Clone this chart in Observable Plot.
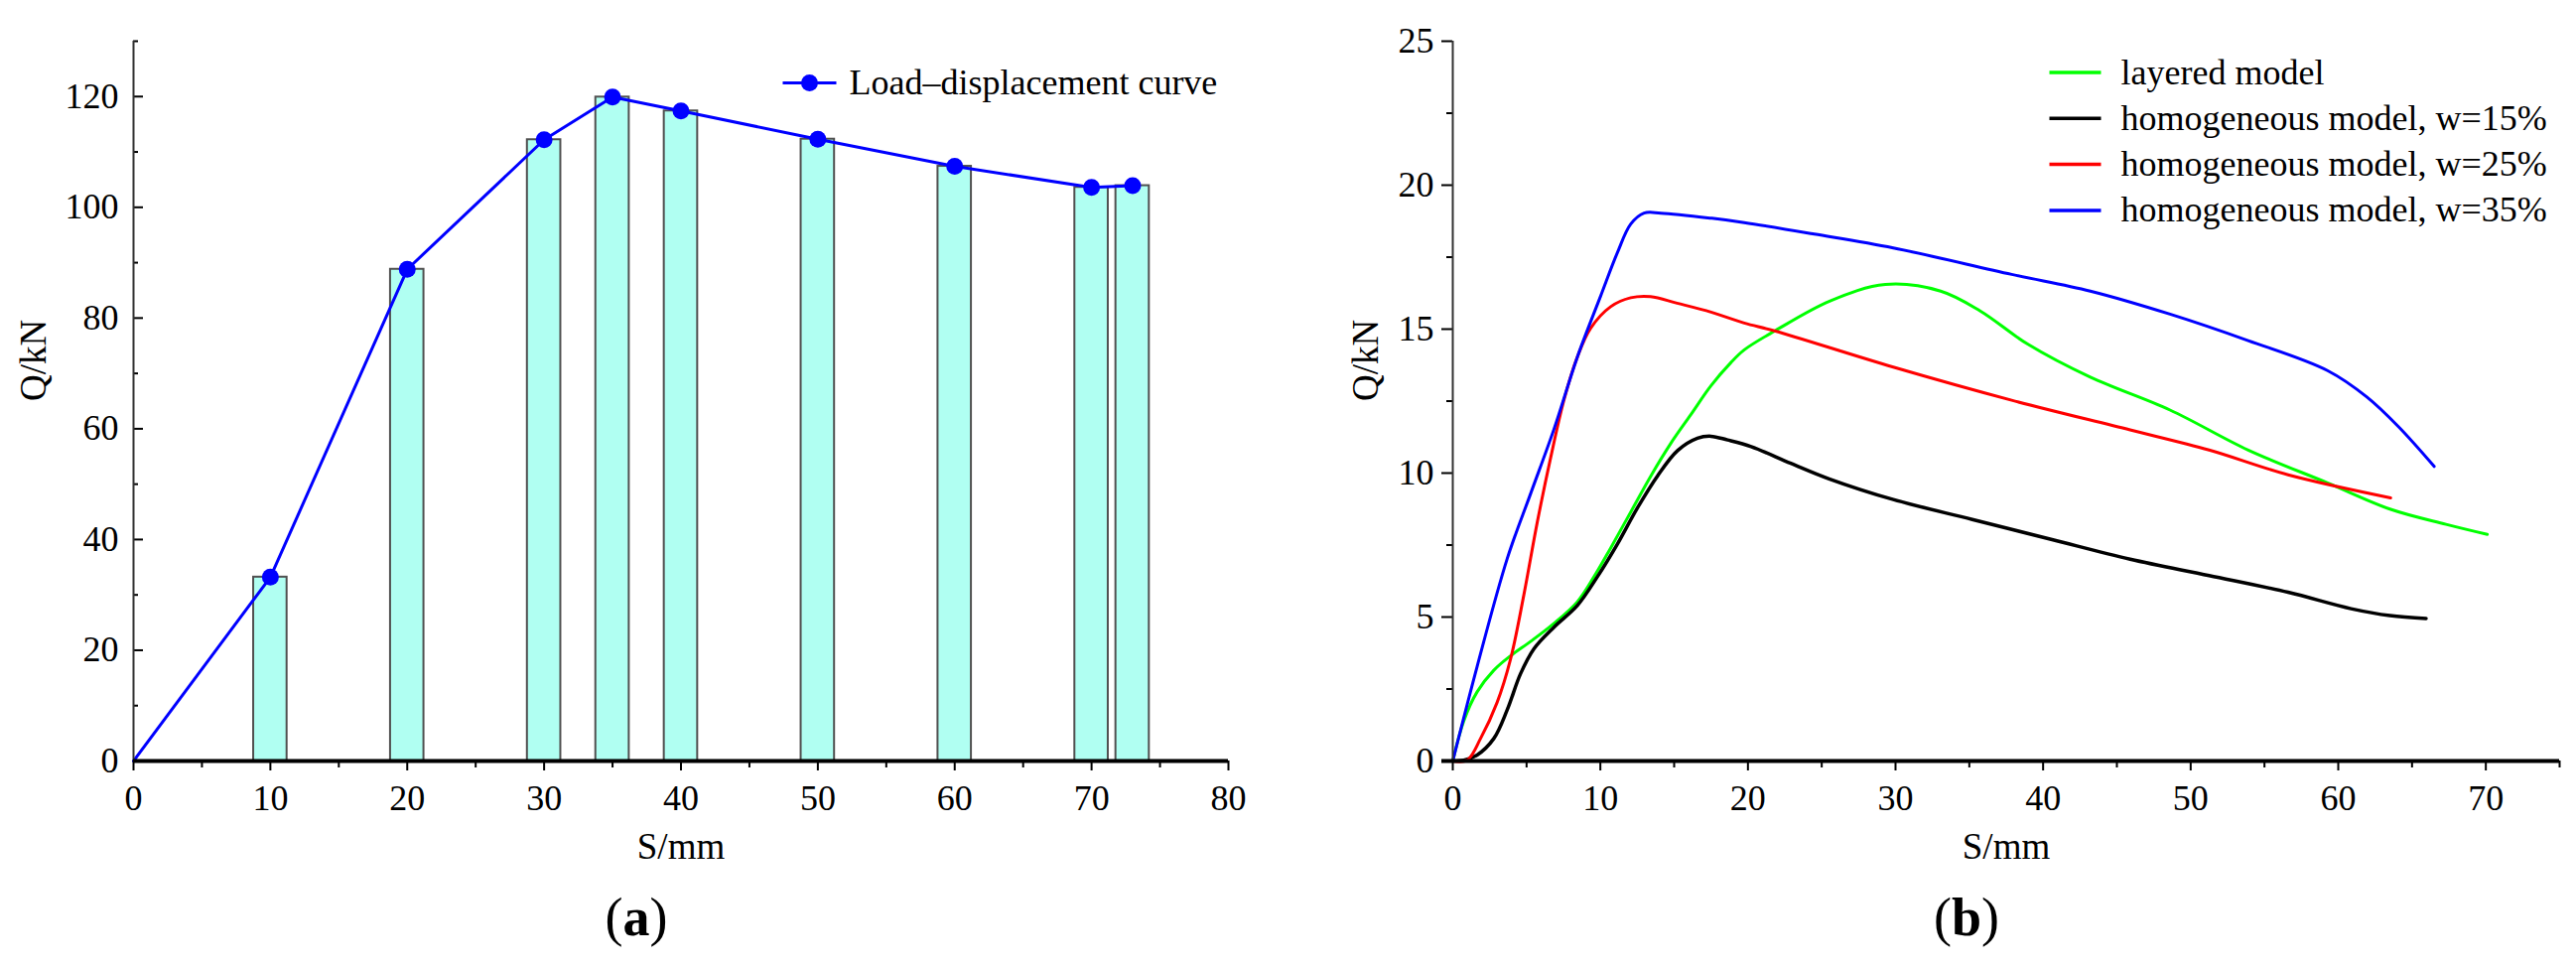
<!DOCTYPE html>
<html>
<head>
<meta charset="utf-8">
<script src="https://cdn.jsdelivr.net/npm/d3@7"></script>
<script src="https://cdn.jsdelivr.net/npm/@observablehq/plot@0.6"></script>
<style>
  html, body { margin: 0; padding: 0; background: #fff; }
  #wrap { position: relative; width: 2595px; height: 975px; overflow: hidden; background: #fff; }
  #pa { position: absolute; left: 0; top: 0; }
  #pb { position: absolute; left: 1300px; top: 0; }
  #wrap svg, #wrap svg text { font-family: "Liberation Serif", "Times New Roman", serif !important; }
  .cap { position: absolute; top: 897px; font-family: "Liberation Serif", "Times New Roman", serif; font-size: 54px; line-height: 1; transform: translateX(-50%); color: #000; white-space: nowrap; }
  .cap b { font-weight: bold; }
</style>
</head>
<body>
<div id="wrap">
  <div id="pa"></div>
  <div id="pb"></div>
  <div class="cap" style="left:641px">(<b>a</b>)</div>
  <div class="cap" style="left:1981px">(<b>b</b>)</div>
</div>
<script>
// ---------- Panel (a) data ----------
const barS = [10, 20, 30, 35, 40, 50, 60, 70, 73];
const barQ = [33.2, 88.8, 112.2, 119.9, 117.4, 112.3, 107.4, 103.6, 103.9];
const curveS = [0, 10, 20, 30, 35, 40, 50, 60, 70, 73];
const curveQ = [0, 33.2, 88.8, 112.2, 119.9, 117.4, 112.3, 107.4, 103.6, 103.9];
const legendA = ["Load–displacement curve"];

const xTicksA = [0, 10, 20, 30, 40, 50, 60, 70, 80];
const xMinorA = [5, 15, 25, 35, 45, 55, 65, 75];
const yTicksA = [0, 20, 40, 60, 80, 100, 120];
const yMinorA = [10, 30, 50, 70, 90, 110, 130];

// ---------- Panel (b) data ----------
const layeredS = [0, 0.75, 1.65, 2.78, 3.91, 5.27, 6.86, 8.44, 9.57, 10.7, 12.06, 13.42, 14.77, 16.13, 17.49, 18.85, 19.75, 21.83, 25.57, 29.31, 33.06, 35.74, 38.95, 43.2, 48.6, 53.9, 59.27, 63.55, 67.3, 70.1];
const layeredQ = [0, 1.4, 2.4, 3.15, 3.65, 4.15, 4.78, 5.53, 6.4, 7.4, 8.65, 9.9, 11.03, 12.03, 13.03, 13.84, 14.28, 14.94, 15.98, 16.55, 16.32, 15.63, 14.48, 13.33, 12.19, 10.8, 9.66, 8.74, 8.22, 7.87];

const w15S = [0, 0.75, 1.65, 2.78, 3.69, 4.59, 5.5, 6.86, 8.44, 9.8, 11.15, 12.5, 13.87, 15.23, 16.58, 17.49, 18.62, 20.22, 22.9, 25.5, 29.85, 35.2, 40.54, 45.9, 51.25, 56.6, 60.87, 63.5, 65.95];
const w15Q = [0, 0.03, 0.21, 0.78, 1.78, 3.03, 3.9, 4.65, 5.4, 6.4, 7.53, 8.78, 9.9, 10.78, 11.21, 11.28, 11.15, 10.92, 10.34, 9.8, 9.08, 8.39, 7.7, 7.01, 6.44, 5.86, 5.29, 5.05, 4.95];

const w25S = [0, 0.97, 1.88, 3.0, 3.91, 4.82, 5.72, 6.63, 7.53, 8.44, 9.34, 10.7, 12.06, 13.4, 15.2, 17.5, 19.75, 21.8, 29.85, 37.87, 45.9, 51.25, 56.6, 63.55];
const w25Q = [0, 0.03, 0.78, 2.03, 3.53, 5.78, 8.28, 10.53, 12.53, 14.03, 15.03, 15.78, 16.09, 16.13, 15.9, 15.59, 15.21, 14.94, 13.68, 12.53, 11.5, 10.8, 9.94, 9.14];

const w35S = [0, 1.65, 3.69, 5.27, 6.86, 8.44, 10.02, 11.15, 12.06, 12.96, 14.1, 17.55, 19.75, 24.5, 29.85, 37.87, 43.2, 48.6, 53.9, 59.27, 61.94, 64.08, 66.5];
const w35Q = [0, 3.28, 7.03, 9.28, 11.53, 14.03, 16.15, 17.65, 18.65, 19.03, 19.03, 18.85, 18.7, 18.3, 17.82, 16.9, 16.32, 15.52, 14.6, 13.56, 12.64, 11.61, 10.23];

const seriesNames = ["layered model", "homogeneous model, w=15%", "homogeneous model, w=25%", "homogeneous model, w=35%"];
const seriesColors = ["#00ff00", "#000000", "#ff0000", "#0000ff"];

const xTicksB = [0, 10, 20, 30, 40, 50, 60, 70];
const xMinorB = [5, 15, 25, 35, 45, 55, 65, 75];
const yTicksB = [0, 5, 10, 15, 20, 25];
const yMinorB = [2.5, 7.5, 12.5, 17.5, 22.5];

// ---------- helpers ----------
const FONT = "Liberation Serif, Times New Roman, serif";
const zip = (xs, ys) => xs.map((x, i) => ({s: x, q: ys[i]}));
const seg = (half) => ({draw(ctx) { ctx.moveTo(-half, 0); ctx.lineTo(half, 0); }});

// ---------- Panel (a) ----------
const bars = zip(barS, barQ);
const curveA = zip(curveS, curveQ);
const barHalf = 1.22;

const chartA = Plot.plot({
  width: 1300, height: 880,
  marginLeft: 134, marginRight: 63, marginTop: 41, marginBottom: 114,
  x: {domain: [0, 80]},
  y: {domain: [0, 130]},
  style: {fontFamily: FONT, fontSize: "36px", color: "#000", background: "#fff"},
  marks: [
    Plot.rectY(bars, {x1: d => d.s - barHalf, x2: d => d.s + barHalf, y1: 0, y2: "q", fill: "#b0fff2", stroke: "#505050", strokeWidth: 2}),
    Plot.line(curveA, {x: "s", y: "q", stroke: "#0000ff", strokeWidth: 3}),
    Plot.dot(bars, {x: "s", y: "q", r: 8.5, fill: "#0000ff"}),
    Plot.axisX(xTicksA, {tickSize: 10, tickPadding: 14, strokeWidth: 2, label: null, fontSize: 36, fontFamily: FONT}),
    Plot.axisX(xMinorA, {tickSize: 7, strokeWidth: 2, tickFormat: () => "", label: null}),
    Plot.axisY(yTicksA, {tickSize: -10, tickPadding: 25, strokeWidth: 2, label: null, fontSize: 36, fontFamily: FONT}),
    Plot.axisY(yMinorA, {tickSize: -5, strokeWidth: 2, tickFormat: () => "", label: null}),
    Plot.ruleX([0], {stroke: "#333", strokeWidth: 2}),
    Plot.ruleY([0], {stroke: "#000", strokeWidth: 4}),
    Plot.text(["S/mm"], {frameAnchor: "bottom", dy: 87, lineAnchor: "middle", fontSize: 37, fontFamily: FONT, fill: "#000"}),
    Plot.text(["Q/kN"], {frameAnchor: "left", dx: -100, rotate: -90, lineAnchor: "middle", fontSize: 37, fontFamily: FONT, fill: "#000"}),
    // legend
    Plot.dot(legendA, {frameAnchor: "top-left", dx: 681, dy: 42, symbol: seg(27), stroke: "#0000ff", strokeWidth: 3, fill: "none"}),
    Plot.dot(legendA, {frameAnchor: "top-left", dx: 681, dy: 42, r: 8.5, fill: "#0000ff"}),
    Plot.text(legendA, {frameAnchor: "top-left", dx: 721, dy: 42, text: d => d, textAnchor: "start", lineAnchor: "middle", fontSize: 36, fontFamily: FONT, fill: "#000"})
  ]
});
document.getElementById("pa").appendChild(chartA);

// ---------- Panel (b) ----------
const seriesB = [
  zip(layeredS, layeredQ),
  zip(w15S, w15Q),
  zip(w25S, w25Q),
  zip(w35S, w35Q)
];

const legendMarks = seriesNames.flatMap((name, i) => [
  Plot.dot([name], {frameAnchor: "top-left", dx: 627, dy: 31.5 + i * 46.3, symbol: seg(26), stroke: seriesColors[i], strokeWidth: 3.5, fill: "none"}),
  Plot.text([name], {frameAnchor: "top-left", dx: 673, dy: 31.5 + i * 46.3, text: d => d, textAnchor: "start", lineAnchor: "middle", fontSize: 36, fontFamily: FONT, fill: "#000"})
]);

const chartB = Plot.plot({
  width: 1295, height: 880,
  marginLeft: 163, marginRight: 17, marginTop: 41, marginBottom: 114,
  x: {domain: [0, 75]},
  y: {domain: [0, 25]},
  style: {fontFamily: FONT, fontSize: "36px", color: "#000", background: "#fff"},
  marks: [
    ...seriesB.map((data, i) => Plot.line(data, {x: "s", y: "q", stroke: seriesColors[i], strokeWidth: i === 1 ? 3.5 : 3, curve: "catmull-rom"})),
    Plot.axisX(xTicksB, {tickSize: 10, tickPadding: 14, strokeWidth: 2, label: null, fontSize: 36, fontFamily: FONT}),
    Plot.axisX(xMinorB, {tickSize: 7, strokeWidth: 2, tickFormat: () => "", label: null}),
    Plot.axisY(yTicksB, {tickSize: 11, tickPadding: 8, strokeWidth: 2, label: null, fontSize: 36, fontFamily: FONT}),
    Plot.axisY(yMinorB, {tickSize: 6, strokeWidth: 2, tickFormat: () => "", label: null}),
    Plot.ruleX([0], {stroke: "#333", strokeWidth: 2}),
    Plot.ruleY([0], {stroke: "#000", strokeWidth: 4, insetLeft: -11}),
    Plot.text(["S/mm"], {frameAnchor: "bottom", dy: 87, lineAnchor: "middle", fontSize: 37, fontFamily: FONT, fill: "#000"}),
    Plot.text(["Q/kN"], {frameAnchor: "left", dx: -87, rotate: -90, lineAnchor: "middle", fontSize: 37, fontFamily: FONT, fill: "#000"}),
    ...legendMarks
  ]
});
document.getElementById("pb").appendChild(chartB);
</script>
</body>
</html>
